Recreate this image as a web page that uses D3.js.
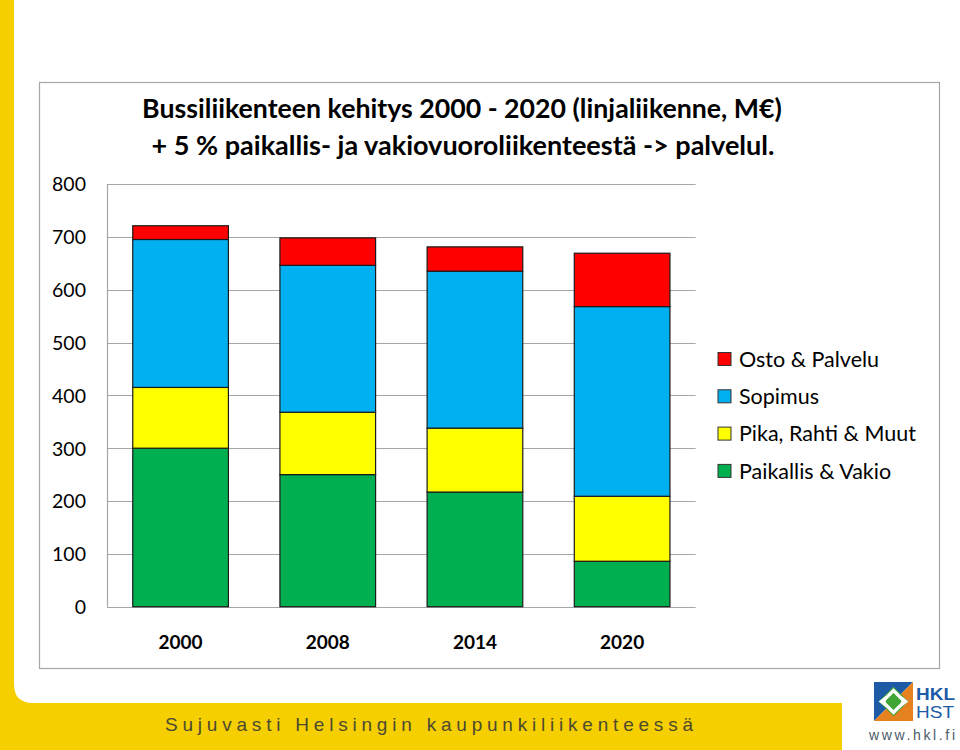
<!DOCTYPE html>
<html>
<head>
<meta charset="utf-8">
<script src="https://cdn.jsdelivr.net/npm/d3@7"></script>
<style>
  html, body { margin: 0; padding: 0; background: #fff; }
  svg { display: block; }
</style>
</head>
<body>
<svg id="chart" width="960" height="750"></svg>
<script>
// ---- Data ----
const years = ["2000", "2008", "2014", "2020"];
const paikallisVakio = [300, 250, 217, 86];
const pikaRahtiMuut = [115, 118, 121, 123];
const sopimus = [280, 278, 297, 359];
const ostoPalvelu = [26, 52, 46, 101];
const seriesNames = ["Paikallis & Vakio", "Pika, Rahti & Muut", "Sopimus", "Osto & Palvelu"];
const yTicks = [0, 100, 200, 300, 400, 500, 600, 700, 800];
const titleLines = [
  "Bussiliikenteen kehitys 2000 - 2020 (linjaliikenne, M€)",
  "+ 5 % paikallis- ja vakiovuoroliikenteestä -> palvelul."
];
const bannerText = "Sujuvasti Helsingin kaupunkiliikenteessä";

const colors = {
  "Paikallis & Vakio": "#00B050",
  "Pika, Rahti & Muut": "#FFFF00",
  "Sopimus": "#00B0F0",
  "Osto & Palvelu": "#FF0000"
};

const table = years.map((y, i) => ({
  year: y,
  "Paikallis & Vakio": paikallisVakio[i],
  "Pika, Rahti & Muut": pikaRahtiMuut[i],
  "Sopimus": sopimus[i],
  "Osto & Palvelu": ostoPalvelu[i]
}));

const svg = d3.select("#chart");
const FONT = "Lato, 'Open Sans', sans-serif";
const YELLOW = "#F6CF00";

// ---- Background frame (yellow L shape) ----
svg.append("rect").attr("x", 0).attr("y", 0).attr("width", 960).attr("height", 750).attr("fill", "#fff");
svg.append("path")
  .attr("d", "M0,0 H14 V684 Q14,703 33,703 H842 V750 H0 Z")
  .attr("fill", YELLOW);

// ---- Outer chart box ----
svg.append("rect")
  .attr("x", 39.5).attr("y", 82.5).attr("width", 900).attr("height", 586)
  .attr("fill", "#fff").attr("stroke", "#a6a6a6").attr("stroke-width", 1.2);

// ---- Scales ----
const plot = { left: 107, right: 695.7, top: 184, bottom: 606.7 };
const x = d3.scaleBand().domain(years).range([plot.left, plot.right])
  .paddingInner(0.35).paddingOuter(0.175);
const y = d3.scaleLinear().domain([0, 800]).range([plot.bottom, plot.top]);

// ---- Gridlines ----
const g = svg.append("g");
g.selectAll("line.grid").data(yTicks).join("line")
  .attr("class", "grid")
  .attr("x1", plot.left).attr("x2", plot.right)
  .attr("y1", d => Math.round(y(d)) + 0.5).attr("y2", d => Math.round(y(d)) + 0.5)
  .attr("stroke", "#a6a6a6").attr("stroke-width", 1.2);
g.append("line")
  .attr("x1", plot.left + 0.5).attr("x2", plot.left + 0.5)
  .attr("y1", y(800)).attr("y2", y(0))
  .attr("stroke", "#a6a6a6").attr("stroke-width", 1.2);

// ---- Y axis labels ----
const yAxis = d3.axisLeft(y).tickValues(yTicks).tickSize(0).tickPadding(0).tickFormat(d3.format("d"));
const yAxisG = svg.append("g").attr("transform", "translate(86,0)").call(yAxis);
yAxisG.select(".domain").remove();
yAxisG.selectAll("text").attr("font-family", FONT).attr("font-size", 19.5).attr("fill", "#000")
  .attr("dy", "0.35em");

// ---- X axis labels ----
const xAxis = d3.axisBottom(x).tickSize(0).tickPadding(0);
const xAxisG = svg.append("g").attr("transform", "translate(0,642)").call(xAxis);
xAxisG.select(".domain").remove();
xAxisG.selectAll("text").attr("font-family", FONT).attr("font-size", 19)
  .attr("font-weight", "bold").attr("fill", "#000").attr("dy", "0.35em");

// ---- Stacked bars ----
const stack = d3.stack().keys(seriesNames)(table);
svg.append("g").selectAll("g").data(stack).join("g")
  .attr("fill", d => colors[d.key])
  .selectAll("rect").data(d => d).join("rect")
  .attr("x", d => x(d.data.year))
  .attr("width", x.bandwidth())
  .attr("y", d => y(d[1]))
  .attr("height", d => y(d[0]) - y(d[1]))
  .attr("stroke", "#1a1a1a").attr("stroke-width", 1.2);

// ---- Title ----
const titleG = svg.append("g");
const titleTargets = [{ cx: 462, y: 118, w: 640 }, { cx: 463, y: 155, w: 623 }];
titleLines.forEach((t, i) => {
  const el = titleG.append("text")
    .attr("x", titleTargets[i].cx).attr("y", titleTargets[i].y)
    .attr("text-anchor", "middle")
    .attr("font-family", FONT).attr("font-weight", "bold").attr("font-size", 24)
    .attr("fill", "#000").text(t);
  const w = el.node().getComputedTextLength();
  el.attr("font-size", 24 * titleTargets[i].w / w);
});

// ---- Legend ----
const legendOrder = ["Osto & Palvelu", "Sopimus", "Pika, Rahti & Muut", "Paikallis & Vakio"];
const leg = svg.append("g").selectAll("g").data(legendOrder).join("g")
  .attr("transform", (d, i) => `translate(718,${359 + i * 37.3})`);
leg.append("rect").attr("x", 0).attr("y", -6.5).attr("width", 13).attr("height", 13)
  .attr("fill", d => colors[d]).attr("stroke", "#333").attr("stroke-width", 1);
leg.append("text").attr("x", 21).attr("y", 0).attr("dy", "0.36em")
  .attr("font-family", FONT).attr("font-size", 21.5).attr("fill", "#000")
  .text(d => d);

// ---- Banner text ----
svg.append("text")
  .attr("x", 165).attr("y", 731)
  .attr("font-family", "'Liberation Sans', Arial, sans-serif").attr("font-size", 19)
  .attr("fill", "#4d4a30")
  .attr("textLength", 528).attr("lengthAdjust", "spacing")
  .text(bannerText);

// ---- Logo ----
const logo = svg.append("g").attr("transform", "translate(874,682)");
const s = 39;
logo.append("rect").attr("width", s).attr("height", s).attr("fill", "#fff");
logo.append("path").attr("d", `M0,0 H${s} L0,${s} Z`).attr("fill", "#1D5BA6");
logo.append("path").attr("d", `M${s},0 V${s} H0 Z`).attr("fill", "#E5821F");
logo.append("path").attr("d", `M${s*0.5},${s*0.12} L${s*0.88},${s*0.5} L${s*0.5},${s*0.88} L${s*0.12},${s*0.5} Z`).attr("fill", "#3FA535");
logo.append("path")
  .attr("d", `M${s*0.22},${s*0.5} L${s*0.5},${s*0.22} L${s*0.78},${s*0.5} M${s*0.22},${s*0.5} L${s*0.5},${s*0.78} L${s*0.78},${s*0.5}`)
  .attr("fill", "none").attr("stroke", "#fff").attr("stroke-width", 3.2);
logo.append("path").attr("d", `M${s*0.12},${s*0.5} L${s*0.3},${s*0.36} L${s*0.3},${s*0.64} Z`).attr("fill", "#fff");
logo.append("path").attr("d", `M${s*0.88},${s*0.5} L${s*0.7},${s*0.36} L${s*0.7},${s*0.64} Z`).attr("fill", "#fff");

svg.append("text").attr("x", 916).attr("y", 700)
  .attr("font-family", "'Liberation Sans', Arial, sans-serif").attr("font-weight", "bold")
  .attr("font-size", 16).attr("fill", "#1D5BA6")
  .attr("textLength", 39).attr("lengthAdjust", "spacingAndGlyphs").text("HKL");
svg.append("text").attr("x", 916).attr("y", 718)
  .attr("font-family", "'Liberation Sans', Arial, sans-serif")
  .attr("font-size", 16).attr("fill", "#1D5BA6")
  .attr("textLength", 38).attr("lengthAdjust", "spacingAndGlyphs").text("HST");
svg.append("text").attr("x", 869).attr("y", 740)
  .attr("font-family", "'Liberation Sans', Arial, sans-serif")
  .attr("font-size", 14).attr("fill", "#4a5a6a")
  .attr("textLength", 86).attr("lengthAdjust", "spacing").text("www.hkl.fi");
</script>
</body>
</html>
